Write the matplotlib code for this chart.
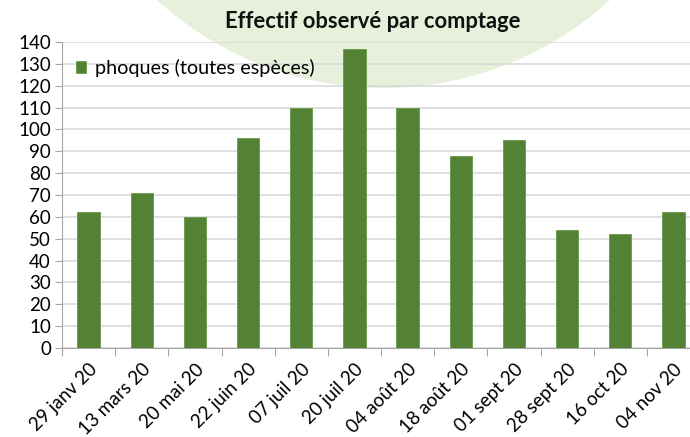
import matplotlib.pyplot as plt
import numpy as np
from matplotlib.patches import Ellipse

# Données
dates = ['29 janv 20', '13 mars 20', '20 mai 20', '22 juin 20', '07 juil 20',
         '20 juil 20', '04 août 20', '18 août 20', '01 sept 20', '28 sept 20',
         '16 oct 20', '04 nov 20']
phoques = [62, 71, 60, 96, 110, 137, 110, 88, 95, 54, 52, 62]
yticks = list(range(0, 141, 10))

plt.rcParams['font.family'] = ['Lato', 'DejaVu Sans']

fig = plt.figure(figsize=(6.9, 4.37), dpi=100)
W, H = 690, 437

# Cercle vert pâle en arrière-plan (coupé en haut de l'image)
fig.patches.append(Ellipse((383.5 / W, 1 + 247.5 / H), 2 * 335.5 / W, 2 * 335.5 / H,
                           transform=fig.transFigure, facecolor='#e6f0da',
                           edgecolor='none', zorder=-5))

ax = fig.add_axes([62 / W, 89 / H, 638 / W, 306 / H])
ax.patch.set_alpha(0)

x = np.arange(len(dates))
ax.bar(x, phoques, width=0.42, color='#548235', edgecolor='#6a9a48', linewidth=0.6,
       zorder=3, label='phoques (toutes espèces)')

ax.set_xlim(-0.5, len(dates) - 0.5)
ax.set_ylim(0, 140)
ax.set_yticks(yticks)
ax.tick_params(axis='y', labelsize=13.5, length=5, color='#a6a6a6', pad=3)
ax.yaxis.grid(True, color='#d9d9d9', linewidth=1.2, zorder=0)
ax.set_axisbelow(True)

# graduations aux limites des catégories, étiquettes au centre
ax.set_xticks(np.arange(-0.5, len(dates)), labels=[])
ax.tick_params(axis='x', which='major', length=6, color='#a6a6a6')
ax.set_xticks(x, minor=True)
ax.set_xticklabels(dates, minor=True, rotation=45, ha='right', va='top',
                   rotation_mode='anchor', fontsize=13.5)
ax.tick_params(axis='x', which='minor', length=0, pad=9)

for s in ['top', 'right']:
    ax.spines[s].set_visible(False)
ax.spines['left'].set_color('#a6a6a6')
ax.spines['bottom'].set_color('#a6a6a6')

fig.text(373 / W, 1 - 22 / H, 'Effectif observé par comptage', ha='center',
         va='center', fontsize=15.8, fontweight='bold', color='#111111')

ax.legend(loc='upper left', bbox_to_anchor=(0.0, 0.99), frameon=False,
          fontsize=14.3, handlelength=0.5, handleheight=0.5, handletextpad=0.45,
          borderaxespad=0.3)

fig.savefig('out.png', dpi=100)
